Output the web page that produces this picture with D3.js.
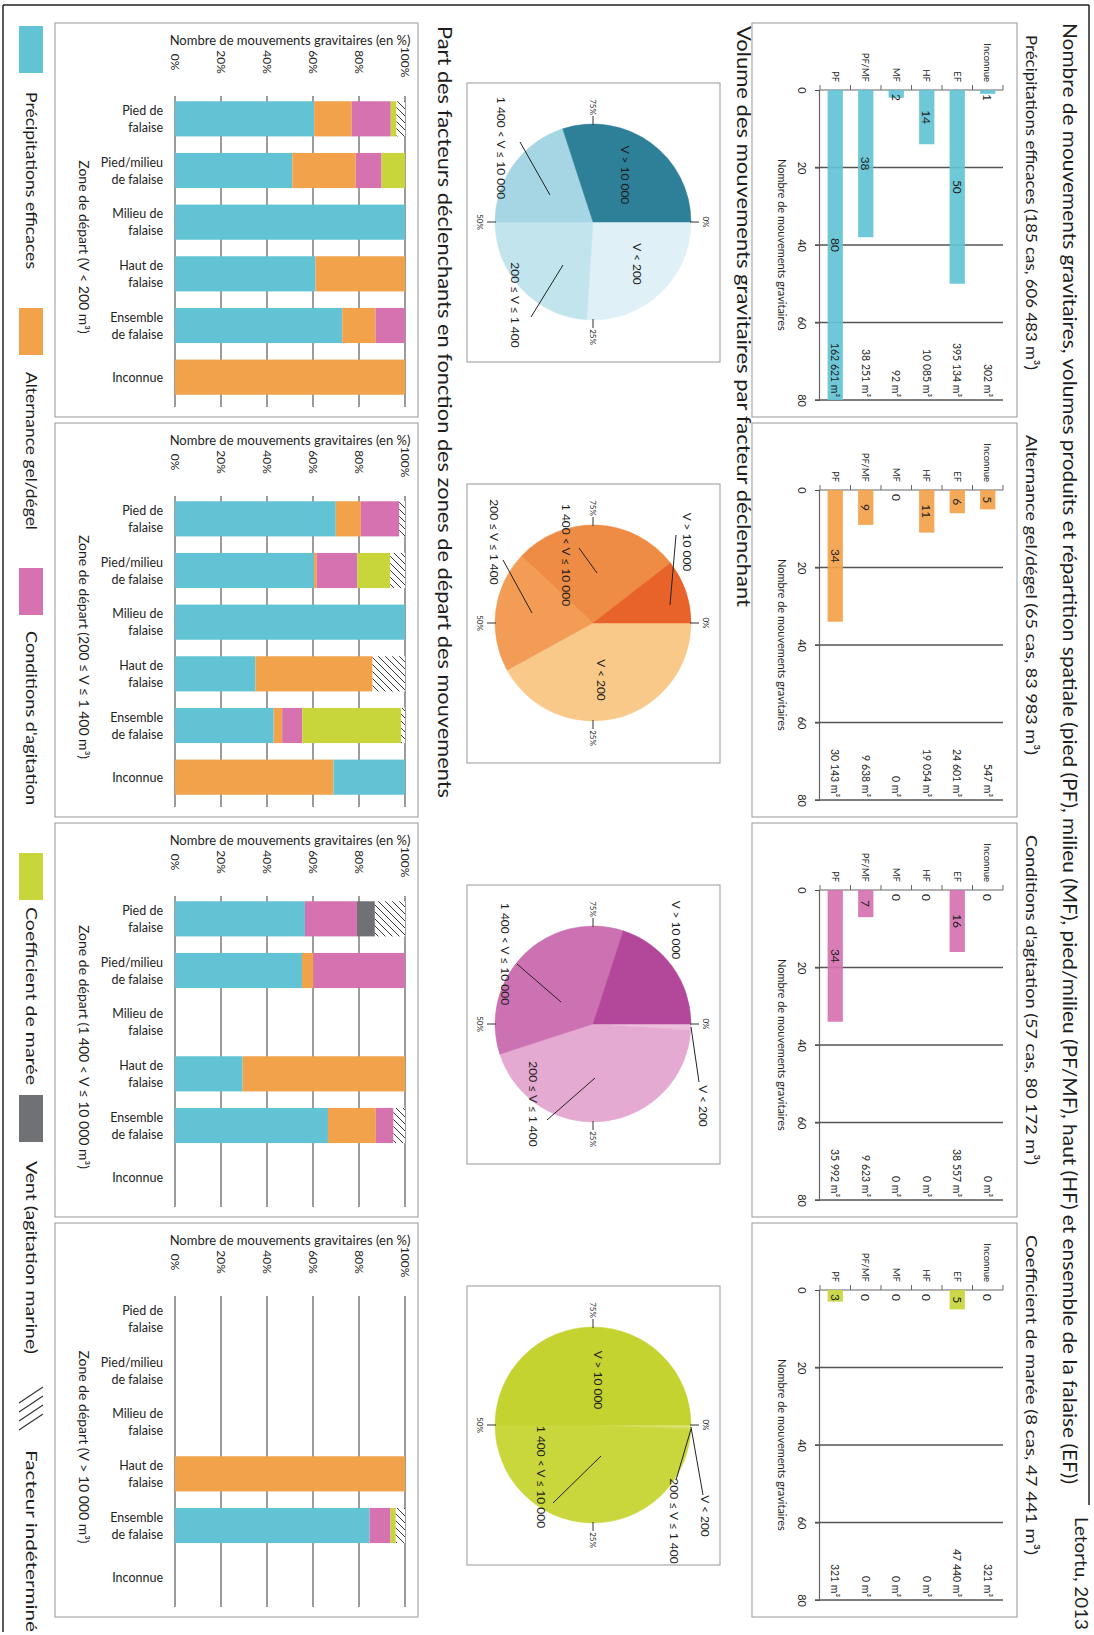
<!DOCTYPE html>
<html><head><meta charset="utf-8">
<script src="https://cdnjs.cloudflare.com/ajax/libs/d3/7.8.5/d3.min.js"></script>
<style>
body{margin:0;background:#fff}
svg{display:block}
text{font-family:Lato,"Noto Sans",sans-serif;fill:#1e1e1e}
</style></head>
<body><svg id="c" width="1094" height="1635"></svg>
<script>
// ---------------- DATA ----------------
const zoneCats = ["Inconnue","EF","HF","MF","PF/MF","PF"];
const countTicks = [0,20,40,60,80];
const subtitles = [
  "Précipitations efficaces (185 cas, 606 483 m³)",
  "Alternance gel/dégel (65 cas, 83 983 m³)",
  "Conditions d'agitation (57 cas, 80 172 m³)",
  "Coefficient de marée (8 cas, 47 441 m³)"
];
const countPrecip = [1,50,14,2,38,80];
const countGel    = [5,6,11,0,9,34];
const countAgit   = [0,16,0,0,7,34];
const countMaree  = [0,5,0,0,0,3];
const volPrecip = ["302","395 134","10 085","92","38 251","162 621"];
const volGel    = ["547","24 601","19 054","0","9 638","30 143"];
const volAgit   = ["0","38 557","0","0","9 623","35 992"];
const volMaree  = ["321","47 440","0","0","0","321"];

const pieClasses = ["V < 200","200 ≤ V ≤ 1 400","1 400 < V ≤ 10 000","V > 10 000"];
const piePrecip = [26,24,20,30];
const pieGel    = [42,20,27.5,10.5];
const pieAgit   = [1,44,35,20];
const pieMaree  = [0.3,0.4,49.3,50];
const pieTicks  = ["0%","25%","50%","75%"];

const zoneIds = ["PF","PFMF","MF","HF","EF","INC"];
const zoneLabels = [["Pied de","falaise"],["Pied/milieu","de falaise"],["Milieu de","falaise"],["Haut de","falaise"],["Ensemble","de falaise"],["Inconnue"]];
const pctTicks = [0,20,40,60,80,100];
const zoneTitles = [
  "Zone de départ (V < 200 m³)",
  "Zone de départ (200 ≤ V ≤ 1 400 m³)",
  "Zone de départ (1 400 < V ≤ 10 000 m³)",
  "Zone de départ (V > 10 000 m³)"
];
// stacked shares (%) per zone, in drawing order [factor, value]
const stackV200 = [
  [["precip",60.5],["gel",16.3],["agit",17],["maree",2.5],["indet",3.7]],
  [["precip",51],["gel",27.6],["agit",11.2],["maree",10.2]],
  [["precip",100]],
  [["precip",61.1],["gel",38.9]],
  [["precip",72.7],["gel",14.5],["agit",12.8]],
  [["gel",100]]
];
const stackV1400 = [
  [["precip",69.9],["gel",10.9],["agit",16.7],["indet",2.5]],
  [["precip",60.4],["gel",1.2],["agit",17.7],["maree",14.3],["indet",6.4]],
  [["precip",100]],
  [["precip",35],["gel",50.9],["indet",14.1]],
  [["precip",42.9],["gel",3.7],["agit",8.7],["maree",43],["indet",1.7]],
  [["gel",68.9],["precip",31.1]]
];
const stackV10000 = [
  [["precip",56.5],["agit",22.6],["vent",7.8],["indet",13.1]],
  [["precip",55.2],["gel",5],["agit",39.8]],
  [],
  [["precip",29.4],["gel",70.6]],
  [["precip",66.5],["gel",20.8],["agit",7.7],["indet",5]],
  []
];
const stackVbig = [
  [],[],[],
  [["gel",100]],
  [["precip",84.6],["agit",9.1],["maree",2.3],["indet",4]],
  []
];
const legendKeys = ["precip","gel","agit","maree","vent","indet"];
const legendNames = ["Précipitations efficaces","Alternance gel/dégel","Conditions d'agitation","Coefficient de marée","Vent (agitation marine)","Facteur indéterminé"];

const mainTitle = "Nombre de mouvements gravitaires, volumes produits et répartition spatiale (pied (PF), milieu (MF), pied/milieu (PF/MF), haut (HF) et ensemble de la falaise (EF))";
const pieSection = "Volume des mouvements gravitaires par facteur déclenchant";
const barSection = "Part des facteurs déclenchants en fonction des zones de départ des mouvements";

// ---------------- STYLE / LAYOUT ----------------
const colors = {precip:"#62c3d4", gel:"#f2a24a", agit:"#d672b0", maree:"#c8d53b", vent:"#707174", indet:"url(#hatch)"};
const pieColors = [
  ["#dff1f6","#c2e4ed","#a6d6e3","#2e7f98"],
  ["#f9c98a","#f29c55","#ee8c45","#e8632a"],
  ["#eebfdd","#e5aad1","#cc72b3","#b3479a"],
  ["#d9e47a","#d2df5a","#c9d73c","#c4d330"]
];
const FONT = 'Lato,"Noto Sans",sans-serif';

const svg = d3.select("#c");
const defs = svg.append("defs");
const pat = defs.append("pattern").attr("id","hatch").attr("patternUnits","userSpaceOnUse").attr("width",7).attr("height",7);
pat.append("rect").attr("width",7).attr("height",7).attr("fill","#fff");
pat.append("path").attr("d","M-1,8 L8,-1 M-1,1 L1,-1 M6,8 L8,6").attr("stroke","#222").attr("stroke-width",0.9);

// landscape drawing rotated into the portrait page
const g = svg.append("g").attr("transform","translate(1094,0) rotate(90)");

// frame
const frame = g.append("g").attr("stroke","#222").attr("stroke-width",1.5);
frame.append("line").attr("x1",5).attr("x2",1505).attr("y1",5).attr("y2",5);
frame.append("line").attr("x1",5).attr("x2",5).attr("y1",5).attr("y2",1091);
frame.append("line").attr("x1",5).attr("x2",1632).attr("y1",1091).attr("y2",1091);

function fitText(sel, x, y, size, len, str){
  return sel.append("text").attr("x",x).attr("y",y).attr("font-size",size)
    .attr("textLength",len).attr("lengthAdjust","spacingAndGlyphs").text(str);
}
fitText(g, 23, 31, 19, 1461, mainTitle);
fitText(g, 1517, 19, 18, 113, "Letortu, 2013");
fitText(g, 26, 357, 20, 581, pieSection);
fitText(g, 26, 656, 20, 772, barSection);

// ---------------- TOP: horizontal bar panels ----------------
const barPanels = [
  {counts:countPrecip, vols:volPrecip, color:colors.precip, tl:335},
  {counts:countGel, vols:volGel, color:colors.gel, tl:320},
  {counts:countAgit, vols:volAgit, color:colors.agit, tl:330},
  {counts:countMaree, vols:volMaree, color:colors.maree, tl:320}
];
barPanels.forEach((p,i)=>{
  const ox = 400*i;
  const pg = g.append("g");
  pg.append("rect").attr("x",23+ox).attr("y",77).attr("width",394).attr("height",265)
    .attr("fill","none").attr("stroke","#a8a8a8").attr("stroke-width",1.2);
  fitText(pg, 35+ox, 68, 16, p.tl, subtitles[i]);
  const x = d3.scaleLinear().domain([0,80]).range([90+ox,400+ox]);
  const y = d3.scaleBand().domain(zoneCats).range([91,274]).paddingInner(0.5).paddingOuter(0.25);
  pg.append("g").selectAll("line").data(countTicks.slice(1)).join("line")
    .attr("x1",d=>x(d)).attr("x2",d=>x(d)).attr("y1",91).attr("y2",279)
    .attr("stroke","#555").attr("stroke-width",1.3);
  const ax = pg.append("g").attr("transform","translate(0,274)")
    .call(d3.axisBottom(x).tickValues(countTicks).tickSize(5).tickPadding(9));
  ax.select(".domain").attr("stroke","#666").attr("stroke-width",1.2);
  ax.selectAll(".tick line").attr("stroke","#555");
  ax.selectAll("text").attr("font-size",11).attr("fill","#222").attr("font-family",FONT);
  // category axis
  pg.append("line").attr("x1",x(0)).attr("x2",x(0)).attr("y1",91).attr("y2",274).attr("stroke","#666").attr("stroke-width",1.2);
  pg.append("g").selectAll("line").data(d3.range(zoneCats.length+1)).join("line")
    .attr("x1",x(0)-5).attr("x2",x(0)).attr("y1",k=>91+k*y.step()).attr("y2",k=>91+k*y.step())
    .attr("stroke","#666");
  pg.append("g").selectAll("text").data(zoneCats).join("text")
    .attr("x",x(0)-8).attr("y",d=>y(d)+y.bandwidth()/2).attr("text-anchor","end")
    .attr("dominant-baseline","central").attr("font-size",9.5).text(d=>d);
  // bars
  pg.append("g").selectAll("rect").data(zoneCats).join("rect")
    .attr("x",x(0)).attr("y",d=>y(d)).attr("height",y.bandwidth())
    .attr("width",(d,j)=>x(p.counts[j])-x(0)).attr("fill",p.color).attr("opacity",0.92);
  pg.append("g").selectAll("text").data(zoneCats).join("text")
    .attr("x",(d,j)=>x(Math.max(p.counts[j]/2,1.9))).attr("y",d=>y(d)+y.bandwidth()/2)
    .attr("text-anchor","middle").attr("dominant-baseline","central").attr("font-size",12)
    .text((d,j)=>p.counts[j]);
  pg.append("g").selectAll("text").data(zoneCats).join("text")
    .attr("x",x(80)-3).attr("y",d=>y(d)+y.bandwidth()/2)
    .attr("text-anchor","end").attr("dominant-baseline","central").attr("font-size",10.5)
    .text((d,j)=>p.vols[j]+" m³");
  pg.append("text").attr("x",x(40)).attr("y",312).attr("text-anchor","middle")
    .attr("dominant-baseline","central").attr("font-size",11).text("Nombre de mouvements gravitaires");
});

// ---------------- MIDDLE: pies ----------------
const pieData = [piePrecip,pieGel,pieAgit,pieMaree];
// label layout relative to pie centre: [classIndex, dx, dy, leader]
const pieLabelLayout = [
  [[3,-47,-32,null],[0,42,-44,null],[1,83,78,[95,62,43,30]],[2,-74,92,[-80,73,-27,43]]],
  [[3,-81,-94,[-88,-83,-18,-77]],[0,57,-8,null],[2,-68,27,[-75,14,-50,-4]],[1,-81,99,[-63,90,-10,61]]],
  [[3,-94,-83,null],[0,82,-110,[3,-98,58,-106]],[1,80,60,[96,46,54,-2]],[2,-70,88,[-60,76,-22,32]]],
  [[3,-45,-5,null],[0,91,-112,[2,-98,70,-110]],[1,96,-81,[4,-98,55,-83]],[2,52,52,[78,40,31,-8]]]
];
const pieR = 98;
pieData.forEach((vals,i)=>{
  const ox = 401*i;
  const cx = 222+ox, cy = 501;
  const pg = g.append("g");
  pg.append("rect").attr("x",83+ox).attr("y",374).attr("width",279).attr("height",253)
    .attr("fill","none").attr("stroke","#a8a8a8").attr("stroke-width",1.2);
  const arcs = d3.pie().sort(null).value(d=>d)(vals);
  const arc = d3.arc().innerRadius(0).outerRadius(pieR);
  pg.append("g").attr("transform",`translate(${cx},${cy})`).selectAll("path").data(arcs).join("path")
    .attr("d",arc).attr("fill",(d,j)=>pieColors[i][j]).attr("stroke",(d,j)=>pieColors[i][j]).attr("stroke-width",0.5);
  // percent ticks
  pieTicks.forEach((t,k)=>{
    const a = k*Math.PI/2;
    const sx = Math.sin(a), sy = -Math.cos(a);
    pg.append("line").attr("x1",cx+sx*(pieR-1)).attr("y1",cy+sy*(pieR-1))
      .attr("x2",cx+sx*(pieR+8)).attr("y2",cy+sy*(pieR+8)).attr("stroke","#333").attr("stroke-width",1);
    pg.append("text").attr("x",cx+sx*(pieR+17)).attr("y",cy+sy*(pieR+15))
      .attr("text-anchor","middle").attr("dominant-baseline","central").attr("font-size",8).text(t);
  });
  pieLabelLayout[i].forEach(([c,dx,dy,ld])=>{
    pg.append("text").attr("x",cx+dx).attr("y",cy+dy).attr("text-anchor","middle")
      .attr("dominant-baseline","central").attr("font-size",12).text(pieClasses[c]);
    if(ld) pg.append("line").attr("x1",cx+ld[0]).attr("y1",cy+ld[1]).attr("x2",cx+ld[2]).attr("y2",cy+ld[3])
      .attr("stroke","#222").attr("stroke-width",1);
  });
});

// ---------------- BOTTOM: stacked columns ----------------
const stacks = [stackV200,stackV1400,stackV10000,stackVbig];
stacks.forEach((st,i)=>{
  const ox = 400*i;
  const pg = g.append("g");
  pg.append("rect").attr("x",23+ox).attr("y",676).attr("width",394).attr("height",363)
    .attr("fill","none").attr("stroke","#a8a8a8").attr("stroke-width",1.2);
  const y = d3.scaleLinear().domain([0,100]).range([919,689]);
  const x = d3.scaleBand().domain(zoneIds).range([93+ox,403+ox]).paddingInner(0.32).paddingOuter(0.16);
  pg.append("g").selectAll("line").data(pctTicks).join("line")
    .attr("x1",96+ox).attr("x2",407+ox).attr("y1",d=>y(d)).attr("y2",d=>y(d))
    .attr("stroke","#5a5a5a").attr("stroke-width",1.2);
  pg.append("g").selectAll("text").data(pctTicks).join("text")
    .attr("x",62+ox).attr("y",d=>y(d)).attr("text-anchor","middle").attr("dominant-baseline","central")
    .attr("font-size",12).text(d=>d+"%");
  pg.append("text").attr("transform",`translate(${40+ox},${y(50)}) rotate(-90)`)
    .attr("text-anchor","middle").attr("dominant-baseline","central").attr("font-size",13)
    .text("Nombre de mouvements gravitaires (en %)");
  // zone labels
  zoneIds.forEach((z,j)=>{
    const lines = zoneLabels[j];
    const xc = x(z)+x.bandwidth()/2;
    lines.forEach((ln,k)=>{
      const off = lines.length===1 ? 0 : (k===0 ? -8.5 : 8.5);
      pg.append("text").attr("transform",`translate(${xc+off},931) rotate(-90)`)
        .attr("text-anchor","end").attr("dominant-baseline","central").attr("font-size",12.5).text(ln);
    });
  });
  // segments
  st.forEach((segs,j)=>{
    let cum = 0;
    segs.forEach(([f,v])=>{
      pg.append("rect").attr("x",x(zoneIds[j])).attr("width",x.bandwidth())
        .attr("y",y(cum+v)).attr("height",y(cum)-y(cum+v)).attr("fill",colors[f]);
      cum += v;
    });
  });
  pg.append("text").attr("x",247+ox).attr("y",1015).attr("text-anchor","middle")
    .attr("font-size",14).text(zoneTitles[i]);
});

// ---------------- LEGEND ----------------
const legendSwX = [26,308,568,853,1095,1387];
const legendTxX = [92,372,631,907,1161,1450];
const legendTxL = [177,158,174,178,193,182];
legendKeys.forEach((k,i)=>{
  if(k==="indet"){
    const lg = g.append("g").attr("stroke","#333").attr("stroke-width",1.1);
    [0,9,18,27].forEach(o=>{
      lg.append("line").attr("x1",legendSwX[i]+o).attr("y1",1051).attr("x2",legendSwX[i]+o+16).attr("y2",1075);
    });
  } else {
    g.append("rect").attr("x",legendSwX[i]).attr("y",1051).attr("width",47).attr("height",24).attr("fill",colors[k]);
  }
  fitText(g, legendTxX[i], 1068, 16, legendTxL[i], legendNames[i]);
});
</script></body></html>
